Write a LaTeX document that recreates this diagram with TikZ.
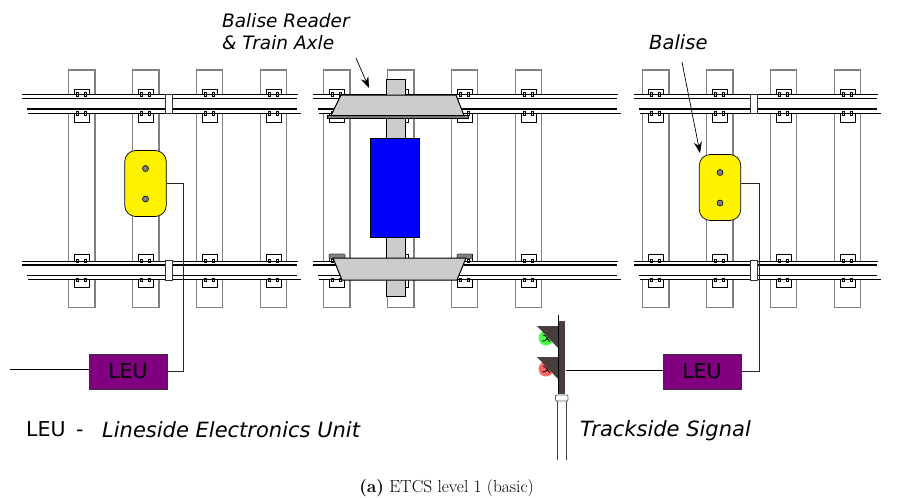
\documentclass[tikz,border=0pt]{standalone}
\usepackage{fontspec}
\setsansfont{DejaVu Sans}
\usetikzlibrary{arrows.meta}
\definecolor{sleepergray}{HTML}{808080}
\definecolor{signalbrown}{HTML}{483E3E}
\definecolor{leupurple}{HTML}{800080}
\tikzset{
  sleeper/.style={draw=sleepergray,line width=1.2pt,fill=white},
  clip box/.style={draw=black,line width=1pt,fill=white},
  thinrail/.style={draw=black,line width=.7pt},
  thickrail/.style={draw=black,line width=1.2pt},
  jointbar/.style={draw=black!80,line width=.8pt,fill=white},
  balise/.style={draw=black,line width=.7pt,fill=yellow,rounded corners=11pt,minimum width=41.5pt,minimum height=66pt,inner sep=0pt},
  leubox/.style={draw=black!80,line width=.8pt,fill=leupurple,minimum width=78pt,minimum height=35pt,inner sep=0pt,font=\sffamily\fontsize{20.5}{22}\selectfont},
  wire/.style={draw=black,line width=.7pt},
  wiregray/.style={draw=black!85,line width=.9pt},
  lbl/.style={font=\sffamily\itshape\fontsize{21}{24}\selectfont,anchor=base west,inner sep=0pt},
  toplbl/.style={font=\sffamily\itshape\fontsize{18.5}{22}\selectfont,anchor=base west,inner sep=0pt},
  plainlbl/.style={font=\sffamily\fontsize{20.5}{24}\selectfont,anchor=base west,inner sep=0pt},
  pointer/.style={draw=black,line width=.7pt,-{Stealth[length=11pt,width=8pt]}},
  bolt/.style={circle,draw=black,line width=.6pt,fill=gray,minimum size=6pt,inner sep=0pt},
}
\newcommand{\trackpiece}[4]{% x0 x1 first sleeper x, joint x
  \foreach \n in {0,1,2,3}{
    \pgfmathsetmacro{\sx}{#3+\n*63.9}
    \draw[sleeper] (\sx,70) rectangle (\sx+26.5,307.7);
  }
  \foreach \yy/\rr in {0/0,165/166.7}{
   \foreach \n in {0,1,2,3}{
    \pgfmathsetmacro{\cx}{#3+\n*63.9+6}
    \draw[clip box] (\cx,89+\yy) rectangle (\cx+15,96+\yy);
    \draw[clip box] (\cx,112+\rr) rectangle (\cx+15,122+\yy);
   }
   \fill[white] (#1,94.5+\rr) rectangle (#2,113+\rr);
   \foreach \n in {0,1,2,3}{
    \pgfmathsetmacro{\cx}{#3+\n*63.9+6}
    \foreach \d in {3,11}{
      \draw[black,line width=.6pt,fill=white] (\cx+\d-1,92.5+\rr) rectangle (\cx+\d+1.2,96+\rr);
      \draw[black,line width=.6pt,fill=white] (\cx+\d-1,111.5+\rr) rectangle (\cx+\d+1.2,115+\rr);
    }
   }
   \draw[thinrail] (#1,94.3+\rr) -- (#2,94.3+\rr);
   \draw[thickrail] (#1-.5,98.3+\rr) -- (#2-1,98.3+\rr);
   \draw[thickrail] (#1+5,109+\rr) -- (#2-1,109+\rr);
   \draw[thinrail] (#1+6,113+\rr) -- (#2+3,113+\rr);
  }
  \foreach \rr in {0,166.7}{
    \ifx\relax#4\relax\else
    \draw[jointbar] (#4,94+\rr) rectangle (#4+7,113.5+\rr);
    \fi
  }
}
\begin{document}
\begin{tikzpicture}[x=1pt,y=-1pt]
\useasboundingbox (0,0) rectangle (897,498);
\trackpiece{22}{298}{68.5}{165.5}
\trackpiece{313}{618}{323.5}{}
\trackpiece{634}{878}{642.5}{750}

% axle and reader
\draw[fill=black!20,draw=black,line width=.8pt] (386.5,79) rectangle (405,296);
\draw[fill=black!50,draw=black,line width=.7pt] (327,115) rectangle (468.5,118.5);
\draw[fill=black!20,draw=black,line width=1pt] (341,95) -- (456,95) -- (464,115.5) -- (331,115.5) -- cycle;
\draw[fill=black!50,draw=black!70,line width=.7pt,rounded corners=1pt] (329,254) rectangle (345,258.5);
\draw[fill=black!50,draw=black!70,line width=.7pt,rounded corners=1pt] (457,254) rectangle (472,258.5);
\draw[fill=black!20,draw=black,line width=1pt] (333,258) -- (466,258) -- (457,280) -- (342,280) -- cycle;
\draw[fill=blue,draw=black,line width=.8pt] (370,138) rectangle (419,237);

% balises
\node[balise] (bl) at (145.5,183.5) {};
\node[bolt] (bl1) at (145.5,168.5) {};
\node[bolt] (bl2) at (145.5,199) {};
\node[balise] (br) at (720,187.5) {};
\node[bolt] (br1) at (720,172.5) {};
\node[bolt] (br2) at (720,203) {};

% LEUs
\node[leubox] (leul) at (128,371.5) {LEU};
\node[leubox] (leur) at (702,371.5) {LEU};
\coordinate (wl) at (10,369);
\draw[wire] (wl) -- (wl -| leul.west);
\coordinate (cl) at (183.5,183.5);
\draw[wiregray] (cl -| bl.east) -- (cl) -- (183.5,371.5) -- (leul.east);
\coordinate (cr) at (759,183.5);
\draw[wiregray] (cr -| br.east) -- (cr) -- (759,371.5) -- (leur.east);

% signal
\fill[green!70!white] (546,338) circle (7.5);
\fill[red!60] (546,369) circle (7.5);
\draw[black,line width=.8pt] (542,341) .. controls (546,342) and (549,337) .. (551,333) (543,335) .. controls (546,335) and (548,340) .. (550,342);
\draw[black,line width=.8pt] (542,372) .. controls (546,373) and (549,368) .. (551,364) (543,366) .. controls (546,366) and (548,371) .. (550,373);
\fill[signalbrown] (537,326) -- (558,326) -- (558,348) -- cycle;
\fill[signalbrown] (537,357) -- (558,357) -- (558,379) -- cycle;
\fill[signalbrown] (558,321) rectangle (565,394);
\draw[black,line width=1pt] (558,315) -- (558,394);
\draw[black!75,line width=.9pt,fill=white] (557,399) -- (557,460) (566,460) -- (566,399);
\draw[black!60,line width=.9pt,fill=white,rounded corners=1pt] (555.5,395) rectangle (568,401);
\coordinate (sg) at (566,370);
\draw[wire] (sg) -- (sg -| leur.west);

% text
\node[toplbl] (t1) at (222,27) {Balise Reader};
\node[toplbl] (t2) at (222,49) {\&\ Train Axle};
\node[toplbl,font=\sffamily\itshape\fontsize{19.5}{22}\selectfont] (t3) at (649,49) {Balise};
\node[plainlbl] (t4) at (26,436.5) {LEU};
\node[plainlbl] (t4b) at (76,436.5) {-};
\node[lbl] (t5) at (102,437) {Lineside Electronics Unit};
\node[lbl] (t6) at (580,436) {Trackside Signal};
\node[font=\fontsize{17.4}{20}\selectfont,anchor=base,inner sep=0pt] (cap) at (446.5,492) {\textbf{(a)} ETCS level 1 (basic)};
\coordinate (a1) at (356,58);
\coordinate (a2) at (369,88);
\draw[pointer] (a1) -- (a2);
\coordinate (b1) at (682,62);
\coordinate (b2) at (700,153);
\draw[pointer] (b1) -- (b2);
\end{tikzpicture}
\end{document}
